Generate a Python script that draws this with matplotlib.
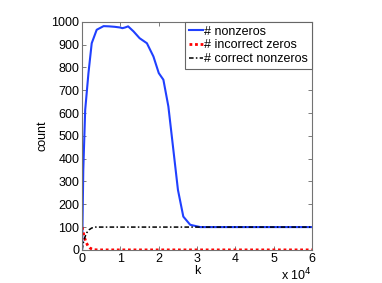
import matplotlib
matplotlib.use("Agg")
import matplotlib.pyplot as plt

k_nz = [0, 300, 800, 1650, 2500, 3800, 5600, 7000, 8500, 9900, 10500, 11200, 12000,
        13400, 15000, 16900, 18600, 20000, 21200, 22500, 23800, 25000, 26400, 28200,
        30800, 35000, 60000]
nonzeros = [0, 350, 614, 775, 906, 965, 981, 980, 978, 975, 972, 975, 980,
            958, 928, 906, 848, 775, 746, 629, 439, 263, 146, 110,
            100, 100, 100]

k_iz = [0, 500, 1000, 1500, 2000, 2500, 3000, 4000, 60000]
incorrect_zeros = [100, 60, 35, 18, 9, 4, 1, 0, 0]

k_cn = [0, 300, 700, 1200, 1800, 2500, 3500, 60000]
correct_nonzeros = [0, 30, 55, 75, 88, 96, 100, 100]

xticks = [0, 10000, 20000, 30000, 40000, 50000, 60000]
xticklabels = ["0", "1", "2", "3", "4", "5", "6"]
yticks = list(range(0, 1001, 100))

plt.rcParams['font.family'] = ['Liberation Sans', 'DejaVu Sans']
plt.rcParams['font.size'] = 9

fig = plt.figure(figsize=(3.82, 2.83), dpi=100)
ax = fig.add_axes([0.215, 0.117, 0.602, 0.806])

ax.plot(k_nz, nonzeros, color='#2040ff', lw=1.5, label='# nonzeros')
ax.plot(k_iz, incorrect_zeros, color='red', lw=2, ls=(0, (1, 1)), label='# incorrect zeros')
ax.plot(k_cn, correct_nonzeros, color='black', lw=1.1, ls=(0, (3, 1.5, 1, 1.5)), label='# correct nonzeros')

ax.set_xlim(0, 60000)
ax.set_ylim(0, 1000)
ax.set_xticks(xticks)
ax.set_xticklabels(xticklabels)
ax.set_yticks(yticks)
ax.tick_params(direction='in', top=True, right=True, length=3, width=0.6, color='0.4', pad=2)
for s in ax.spines.values():
    s.set_color('0.45')
    s.set_linewidth(0.8)

ax.set_xlabel('k', labelpad=0)
ax.set_ylabel('count', labelpad=2)
ax.text(1.0, -0.075, r'x 10$^4$', transform=ax.transAxes, ha='right', va='top')

leg = ax.legend(loc='upper right', handlelength=1.15, handletextpad=0.1, borderaxespad=0,
                borderpad=0.3, labelspacing=0.15, fancybox=False, framealpha=1)
leg.get_frame().set_edgecolor('0.4')
leg.get_frame().set_linewidth(0.8)

fig.savefig('out.png', dpi=100)
